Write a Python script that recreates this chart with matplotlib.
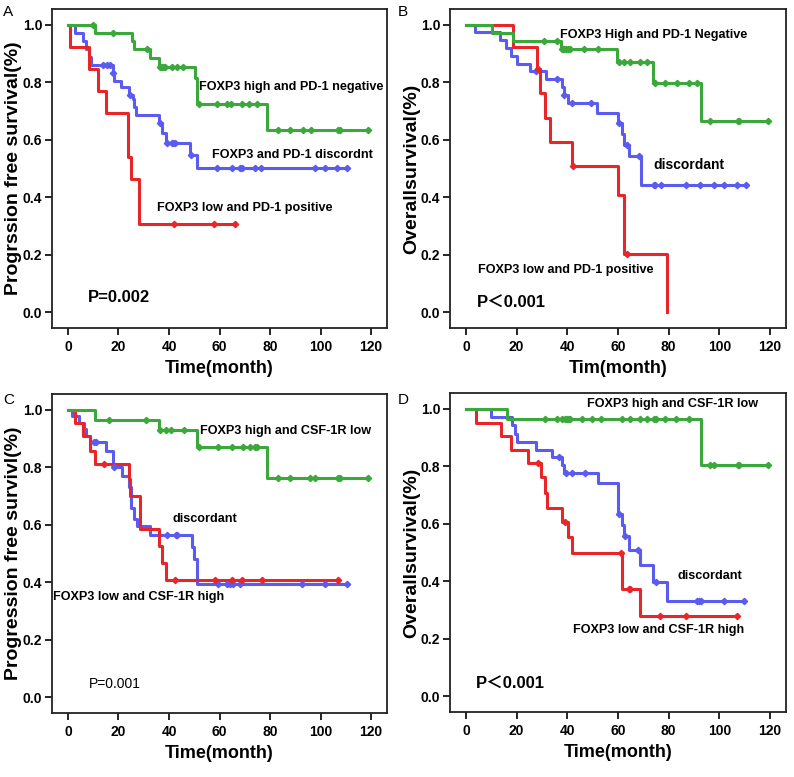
import numpy as np
import matplotlib
matplotlib.use("Agg")
import matplotlib.pyplot as plt

FONTS = ['Liberation Sans', 'Noto Sans CJK SC', 'DejaVu Sans']
plt.rcParams['font.family'] = FONTS

GREEN = '#3aa83a'
BLUE = '#5b5bf0'
RED = '#e8262a'

# ---- Panel A: PFS, FOXP3 / PD-1 ----
a_green_t = [10.7, 25.2, 26.1, 32.4, 36.2, 50.3, 51.0, 78.6]
a_green_s = [0.971, 0.943, 0.914, 0.884, 0.853, 0.814, 0.725, 0.633]
a_green_c = [10.0, 18.0, 31.4, 36.5, 37.2, 37.8, 38.5, 41.0, 43.0, 45.7, 52.0, 58.9,
             62.8, 64.5, 68.7, 71.8, 74.9, 83.0, 87.9, 92.9, 96.1, 107.0, 107.7, 118.9]
a_blue_t = [2.8, 6.1, 7.1, 8.4, 9.0, 17.9, 18.3, 20.9, 24.3, 25.6, 26.2, 26.9,
            36.2, 37.1, 38.8, 48.3, 51.0]
a_blue_s = [0.972, 0.944, 0.917, 0.889, 0.861, 0.833, 0.805, 0.783, 0.756, 0.740,
            0.714, 0.687, 0.657, 0.623, 0.589, 0.547, 0.500]
a_blue_c = [14.0, 15.3, 16.6, 18.0, 24.5, 36.3, 39.2, 41.0, 41.6, 42.2, 48.8, 58.9,
            65.0, 68.0, 68.7, 74.0, 76.6, 97.8, 101.8, 106.6, 110.3]
a_red_t = [1.0, 8.4, 12.0, 14.9, 23.9, 25.0, 28.2]
a_red_s = [0.923, 0.846, 0.769, 0.692, 0.538, 0.462, 0.308]
a_red_c = [42.1, 58.0, 66.0]

# ---- Panel B: OS, FOXP3 / PD-1 ----
b_green_t = [10.1, 18.7, 37.3, 59.7, 73.7, 92.6]
b_green_s = [0.972, 0.944, 0.915, 0.870, 0.798, 0.665]
b_green_c = [30.9, 35.9, 37.8, 38.3, 38.8, 39.5, 40.2, 41.0, 46.6, 51.9, 60.4, 62.3,
             64.7, 68.7, 71.6, 74.5, 78.5, 83.1, 88.1, 91.1, 96.2, 107.2, 107.8, 119.3]
b_blue_t = [3.6, 13.5, 15.9, 17.8, 20.0, 25.4, 31.7, 37.7, 38.5, 40.3, 51.8, 60.0,
            61.5, 62.2, 64.4, 69.0]
b_blue_s = [0.973, 0.946, 0.919, 0.892, 0.865, 0.838, 0.811, 0.784, 0.757, 0.727,
            0.693, 0.659, 0.620, 0.581, 0.542, 0.443]
b_blue_c = [27.5, 35.9, 38.8, 41.9, 49.2, 60.2, 63.5, 68.4, 74.1, 74.7, 77.0, 86.9,
            92.2, 97.9, 101.9, 107.0, 110.3]
b_red_t = [18.7, 28.0, 29.3, 31.3, 33.0, 41.9, 60.0, 62.4, 79.4]
b_red_s = [0.923, 0.846, 0.761, 0.677, 0.592, 0.507, 0.406, 0.203, 0.0]
b_red_c = [28.3, 42.2, 63.7]

# ---- Panel C: PFS, FOXP3 / CSF-1R ----
c_green_t = [10.8, 35.9, 51.0, 78.7]
c_green_s = [0.965, 0.929, 0.871, 0.764]
c_green_c = [16.1, 31.0, 36.5, 38.8, 40.9, 46.0, 51.9, 59.2, 65.1, 69.2, 71.9, 74.1,
             74.8, 83.0, 88.0, 95.9, 97.8, 107.0, 107.7, 118.9]
c_blue_t = [1.6, 4.5, 6.2, 7.3, 8.6, 15.2, 18.0, 21.4, 24.0, 25.0, 26.2, 27.5, 32.3,
            49.1, 50.0, 51.0]
c_blue_s = [0.977, 0.955, 0.932, 0.910, 0.887, 0.858, 0.800, 0.768, 0.730, 0.660,
            0.620, 0.594, 0.565, 0.524, 0.480, 0.394]
c_blue_c = [10.2, 11.0, 18.2, 39.2, 42.7, 43.1, 59.2, 62.9, 64.2, 65.5, 68.2, 92.6,
            101.8, 110.4]
c_red_t = [2.9, 5.9, 8.8, 10.8, 24.0, 24.7, 28.6, 35.9, 37.2, 38.9]
c_red_s = [0.955, 0.910, 0.857, 0.810, 0.760, 0.700, 0.586, 0.527, 0.468, 0.408]
c_red_c = [14.1, 42.5, 58.3, 64.9, 68.8, 77.0, 107.0]

# ---- Panel D: OS, FOXP3 / CSF-1R ----
d_green_t = [16.3, 92.6]
d_green_s = [0.965, 0.805]
d_green_c = [31.1, 36.0, 37.7, 39.0, 39.7, 40.4, 41.0, 45.7, 49.6, 53.3, 61.5, 64.8,
             68.8, 71.5, 74.1, 74.8, 78.7, 82.9, 88.0, 96.2, 97.9, 107.2, 107.8, 119.1]
d_blue_t = [9.9, 18.2, 19.4, 20.2, 27.8, 34.0, 37.7, 38.5, 52.0, 59.9, 61.5, 62.2,
            64.4, 68.8, 73.8, 79.4]
d_blue_s = [0.971, 0.943, 0.914, 0.886, 0.857, 0.831, 0.803, 0.775, 0.741, 0.635,
            0.596, 0.557, 0.510, 0.455, 0.399, 0.331]
d_blue_c = [36.8, 39.3, 41.7, 47.0, 60.2, 62.8, 68.0, 74.8, 91.0, 92.0, 92.6, 101.9,
            109.8]
d_red_t = [4.0, 13.9, 17.9, 24.5, 29.5, 31.1, 31.8, 38.0, 40.3, 41.9, 61.5, 68.8]
d_red_s = [0.952, 0.905, 0.857, 0.810, 0.762, 0.708, 0.655, 0.607, 0.553, 0.498,
           0.373, 0.280]
d_red_c = [28.4, 39.0, 61.3, 64.2, 64.8, 76.7, 86.7, 106.8]

# end of follow-up for each curve (last time drawn)
a_end = {'green': 118.9, 'blue': 110.3, 'red': 66.0}
b_end = {'green': 119.3, 'blue': 110.3, 'red': 79.4}
c_end = {'green': 118.9, 'blue': 110.4, 'red': 107.0}
d_end = {'green': 119.1, 'blue': 109.8, 'red': 106.8}

panels = [
    dict(letter='A', ylabel='Progrssion free survival(%)', xlabel='Time(month)',
         curves=[(a_blue_t, a_blue_s, a_blue_c, BLUE, a_end['blue']),
                 (a_red_t, a_red_s, a_red_c, RED, a_end['red']),
                 (a_green_t, a_green_s, a_green_c, GREEN, a_end['green'])],
         notes=[(51.9, 0.783, 'FOXP3 high and PD-1 negative', 9.1, 'bold'),
                (57.1, 0.548, 'FOXP3 and PD-1 discordnt', 9.1, 'bold'),
                (35.3, 0.362, 'FOXP3 low and PD-1 positive', 9.1, 'bold'),
                (7.9, 0.051, 'P=0.002', 12, 'bold')]),
    dict(letter='B', ylabel='Overallsurvival(%)', xlabel='Tim(month)',
         curves=[(b_blue_t, b_blue_s, b_blue_c, BLUE, b_end['blue']),
                 (b_red_t, b_red_s, b_red_c, RED, b_end['red']),
                 (b_green_t, b_green_s, b_green_c, GREEN, b_end['green'])],
         notes=[(36.9, 0.965, 'FOXP3 High and PD-1 Negative', 9.1, 'bold'),
                (74.1, 0.512, 'discordant', 10, 'bold'),
                (4.6, 0.146, 'FOXP3 low and PD-1 positive', 9.1, 'bold'),
                (4.2, 0.029, 'P\uff1c0.001', 12, 'bold')]),
    dict(letter='C', ylabel='Progression free survivl(%)', xlabel='Time(month)',
         curves=[(c_blue_t, c_blue_s, c_blue_c, BLUE, c_end['blue']),
                 (c_red_t, c_red_s, c_red_c, RED, c_end['red']),
                 (c_green_t, c_green_s, c_green_c, GREEN, c_end['green'])],
         notes=[(52.1, 0.928, 'FOXP3 high and CSF-1R low', 9.1, 'bold'),
                (41.4, 0.621, 'discordant', 9.1, 'bold'),
                (-5.9, 0.348, 'FOXP3 low and CSF-1R high', 9.1, 'bold'),
                (8.2, 0.046, 'P=0.001', 10, 'normal')]),
    dict(letter='D', ylabel='Overallsurvival(%)', xlabel='Time(month)',
         curves=[(d_blue_t, d_blue_s, d_blue_c, BLUE, d_end['blue']),
                 (d_red_t, d_red_s, d_red_c, RED, d_end['red']),
                 (d_green_t, d_green_s, d_green_c, GREEN, d_end['green'])],
         notes=[(47.6, 1.017, 'FOXP3 high and CSF-1R low', 9.1, 'bold'),
                (83.4, 0.417, 'discordant', 9.1, 'bold'),
                (42.3, 0.229, 'FOXP3 low and CSF-1R high', 9.1, 'bold'),
                (4.0, 0.041, 'P\uff1c0.001', 12, 'bold')]),
]

# axes boxes in figure fraction (left, bottom, width, height)
boxes = [(0.0655, 0.578, 0.422, 0.4105),
         (0.5668, 0.578, 0.4232, 0.4105),
         (0.0655, 0.0824, 0.422, 0.4105),
         (0.5668, 0.0837, 0.4232, 0.4105)]
letter_pos = [(0.004, 0.994), (0.501, 0.994), (0.004, 0.494), (0.501, 0.494)]


def draw_km(ax, t, s, cens, color, t_end):
    tt = np.concatenate([[0.0], t, [t_end]])
    ss = np.concatenate([[1.0], s, [s[-1]]])
    ax.step(tt, ss, where='post', color=color, lw=2.2, zorder=3)
    idx = np.searchsorted(np.asarray(t), cens, side='right')
    levels = np.concatenate([[1.0], s])[idx]
    ax.plot(cens, levels, ls='none', marker='D', ms=3.2, color=color, zorder=4)


fig = plt.figure(figsize=(7.94, 7.77), dpi=100)
for p, box, lp in zip(panels, boxes, letter_pos):
    ax = fig.add_axes(box)
    for t, s, cens, color, t_end in p['curves']:
        draw_km(ax, t, s, cens, color, t_end)
    for x, y, txt, size, weight in p['notes']:
        ax.text(x, y, txt, fontsize=size, fontweight=weight, va='center', ha='left',
                family=FONTS)
    ax.set_xlim(-6.3, 126.3)
    ax.set_ylim(-0.055, 1.055)
    ax.set_xticks(np.arange(0, 121, 20))
    ax.set_yticks(np.arange(0, 1.01, 0.2))
    ax.set_yticklabels([f'{v:.1f}' for v in np.arange(0, 1.01, 0.2)])
    ax.tick_params(labelsize=10, width=1.2, length=5, direction='out', pad=2)
    ax.tick_params(axis='x', pad=4)
    for lab in ax.get_xticklabels() + ax.get_yticklabels():
        lab.set_fontweight('bold')
    for sp in ax.spines.values():
        sp.set_linewidth(1.3)
        sp.set_color('#222222')
    ax.set_xlabel(p['xlabel'], fontsize=13, fontweight='bold', labelpad=4)
    ax.set_ylabel(p['ylabel'], fontsize=14, fontweight='bold')
    ax.yaxis.set_label_coords(-0.09, 0.5)
    fig.text(lp[0], lp[1], p['letter'], fontsize=11, va='top', ha='left')

fig.savefig('out.png', dpi=100)
